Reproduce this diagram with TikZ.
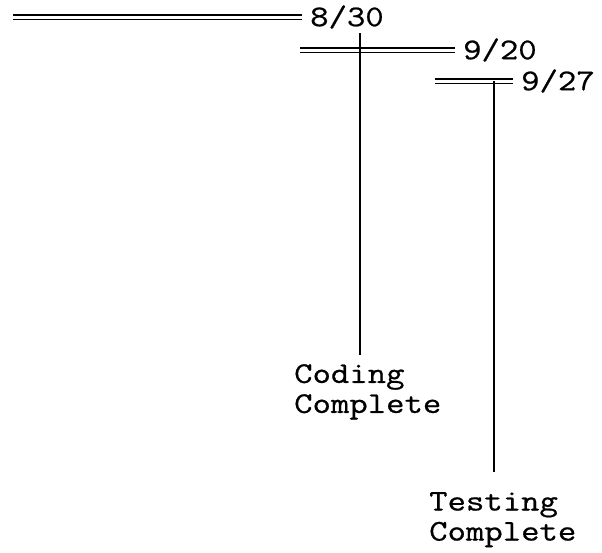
\documentclass[tikz,border=0pt]{standalone}
\usepackage{fontspec}
\setmonofont[FakeStretch=1.19, FakeBold=0.7]{Latin Modern Mono}
\usepackage{tikz}
\usetikzlibrary{positioning, calc}
\tikzset{
    schedbar/.style={
        double, double distance=3pt, line width=1.8pt
    },
    droplink/.style={
        line width=1.7pt
    },
    datelabel/.style={
        inner xsep=8pt, inner ysep=0pt
    },
    milestone/.style={
        align=left, inner sep=0pt, anchor=north west
    }
}

\begin{document}
\begin{tikzpicture}[
    x=1pt, y=-1pt,
    every node/.style={font=\ttfamily\fontsize{30}{30}\selectfont}
]
\useasboundingbox (0,0) rectangle (602,552);

% bars and their end dates
\coordinate (s1) at (13,17);
\coordinate (e1) at (302,17);
\node[datelabel, right=0pt of e1] (d1) {8/30};

\coordinate (s2) at (300,50);
\coordinate (e2) at (455,50);
\node[datelabel, right=0pt of e2] (d2) {9/20};

\coordinate (s3) at (435,81);
\coordinate (e3) at (513,81);
\node[datelabel, right=0pt of e3] (d3) {9/27};

\draw[schedbar] (s1) -- (e1);
\draw[schedbar] (s2) -- (e2);
\draw[schedbar] (s3) -- (e3);

% milestones
\node[milestone] (coding) at (294,364) {Coding\\Complete};
\node[milestone] (testing) at (429,492) {Testing\\Complete};

\coordinate (m1) at (360,33);
\coordinate (m2) at (494,81);

\draw[droplink, shorten >=9pt] (m1) -- (m1 |- coding.north);
\draw[droplink, shorten >=20pt] (m2) -- (m2 |- testing.north);

\end{tikzpicture}
\end{document}
